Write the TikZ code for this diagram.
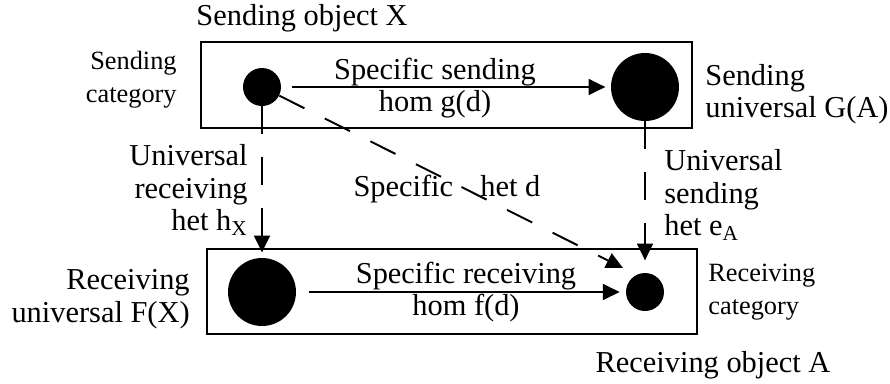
\documentclass[tikz,border=0pt]{standalone}
\usepackage{fontspec}
\setmainfont{Liberation Serif}
\usetikzlibrary{arrows.meta}
\tikzset{
  dot/.style={circle,fill=black,inner sep=0pt,minimum size=#1},
  lab/.style={font=\fontsize{17.3}{18.5}\selectfont,inner sep=0pt},
  smalllab/.style={font=\fontsize{15}{19}\selectfont,inner sep=0pt},
  hom/.style={-{Triangle[length=9.5pt,width=9pt]},line width=1.1pt},
  het/.style={hom,dash pattern=on 16pt off 13pt},
  catbox/.style={line width=1.1pt},
}
\begin{document}
\begin{tikzpicture}[x=0.02cm,y=0.02cm]
\useasboundingbox (0,0) rectangle (890,-383);
\draw[catbox] (201,-42) rectangle (692,-128);
\draw[catbox] (207,-249) rectangle (697,-334);

\node[dot=0.76cm] (sx) at (262,-87) {};
\node[dot=1.36cm] (ga) at (645,-87) {};
\node[dot=1.36cm] (fx) at (262,-292) {};
\node[dot=0.76cm] (ra) at (645,-292) {};
\coordinate (hd) at (623,-268);

\draw[hom,shorten <=6pt,shorten >=3pt] (sx) -- (ga);
\draw[hom,shorten <=7pt,shorten >=3.4pt] (fx) -- (ra);
\draw[het,shorten >=3pt] (sx) -- (fx);
\draw[het,shorten >=7pt] (ga) -- (ra);
\draw[het] (sx) -- (hd);

\node[lab] (sendobj) at (302,-18) {Sending object X};
\node[smalllab,align=right,anchor=east] (sendcat) at (177,-80) {Sending\\category};
\node[lab,align=center] (ghom) at (435,-88) {Specific sending\\hom g(d)};
\node[lab,align=left,anchor=west] (guni) at (705,-94) {Sending\\universal G(A)};
\node[lab,align=right,anchor=east] (hhet) at (248,-190) {Universal\\receiving\\het h\textsubscript{X}};
\node[lab] (dhet) at (447,-189) {Specific\hspace{0.9em}het d};
\node[lab,align=left,anchor=west] (ehet) at (664,-195) {Universal\\sending\\het e\textsubscript{A}};
\node[lab,align=right,anchor=east] (funi) at (190,-299) {Receiving\\universal F(X)};
\node[lab,align=center] (fhom) at (466,-292) {Specific receiving\\hom f(d)};
\node[smalllab,align=left,anchor=west] (reccat) at (708,-292) {Receiving\\category};
\node[lab] (recobj) at (713,-365) {Receiving object A};
\end{tikzpicture}
\end{document}
